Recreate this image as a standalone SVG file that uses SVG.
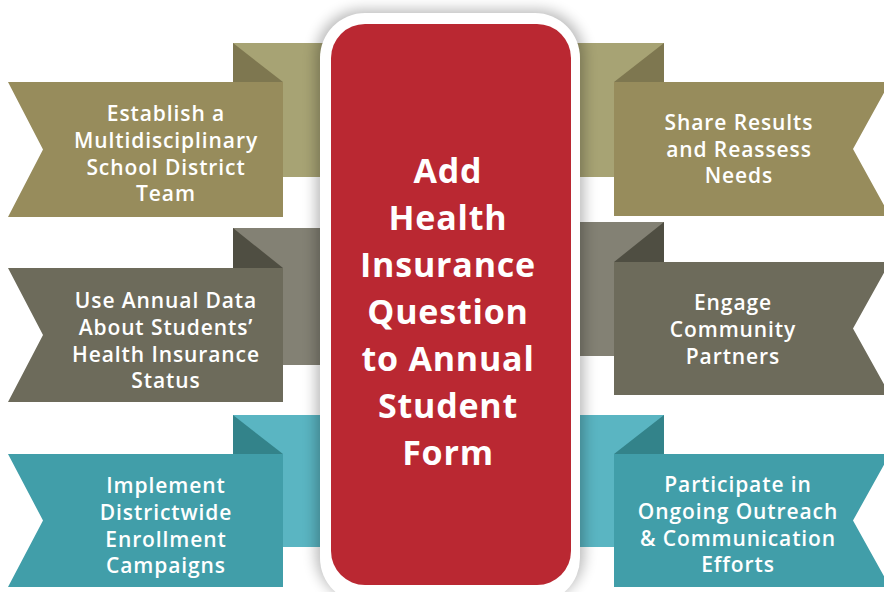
<svg xmlns="http://www.w3.org/2000/svg" width="884" height="592" viewBox="0 0 884 592">
<defs>
<filter id="sh" x="-30%" y="-30%" width="160%" height="160%"><feGaussianBlur stdDeviation="7"/></filter>
<style>
.t{font-family:"Open Sans","Liberation Sans",sans-serif;font-weight:600;font-size:21px;letter-spacing:0.9px;fill:#fff;text-anchor:middle}
.c{font-family:"Open Sans","Liberation Sans",sans-serif;font-weight:700;font-size:34px;letter-spacing:0.8px;fill:#fff;text-anchor:middle}
.of{fill:#978c5c}.ob{fill:#a7a374}.od{fill:#7e7750}
.gf{fill:#6d6b5b}.gb{fill:#838174}.gd{fill:#4f4e42}
.tf{fill:#419ea9}.tb{fill:#5ab5c2}.td{fill:#33838a}
</style>
</defs>
<rect width="884" height="592" fill="#fff"/>
<g id="ribbon-left-1">
<rect class="ob" x="233" y="43" width="100" height="134"/>
<polygon class="od" points="233,43 283,82 233,82"/>
<polygon class="of" points="8,82 283,82 283,217 8,217 43,149.5"/>
<text class="t"><tspan x="166" y="121">Establish a</tspan><tspan x="166" y="148">Multidisciplinary</tspan><tspan x="166" y="175">School District</tspan><tspan x="166" y="201">Team</tspan></text>
</g>
<g id="ribbon-left-2">
<rect class="gb" x="233" y="228" width="100" height="137"/>
<polygon class="gd" points="233,228 283,268 233,268"/>
<polygon class="gf" points="8,268 283,268 283,402 8,402 43,335"/>
<text class="t"><tspan x="166" y="308">Use Annual Data</tspan><tspan x="166" y="335">About Students’</tspan><tspan x="166" y="362">Health Insurance</tspan><tspan x="166" y="388">Status</tspan></text>
</g>
<g id="ribbon-left-3">
<rect class="tb" x="233" y="415" width="100" height="132"/>
<polygon class="td" points="233,415 283,454 233,454"/>
<polygon class="tf" points="8,454 283,454 283,587 8,587 43,520.5"/>
<text class="t"><tspan x="166" y="493">Implement</tspan><tspan x="166" y="520">Districtwide</tspan><tspan x="166" y="547">Enrollment</tspan><tspan x="166" y="573">Campaigns</tspan></text>
</g>
<g id="ribbon-right-1">
<rect class="ob" x="565" y="43" width="99" height="134"/>
<polygon class="od" points="664,43 664,82 614,82"/>
<polygon class="of" points="614,82 890,82 853,149 890,216 614,216"/>
<text class="t"><tspan x="739" y="130">Share Results</tspan><tspan x="739" y="157">and Reassess</tspan><tspan x="739" y="183">Needs</tspan></text>
</g>
<g id="ribbon-right-2">
<rect class="gb" x="565" y="222" width="99" height="134"/>
<polygon class="gd" points="664,222 664,262 614,262"/>
<polygon class="gf" points="614,262 890,262 853,328.5 890,395 614,395"/>
<text class="t"><tspan x="733" y="310">Engage</tspan><tspan x="733" y="337">Community</tspan><tspan x="733" y="364">Partners</tspan></text>
</g>
<g id="ribbon-right-3">
<rect class="tb" x="565" y="415" width="99" height="132"/>
<polygon class="td" points="664,415 664,454 614,454"/>
<polygon class="tf" points="614,454 890,454 853,520.5 890,587 614,587"/>
<text class="t"><tspan x="738" y="492">Participate in</tspan><tspan x="738" y="519">Ongoing Outreach</tspan><tspan x="738" y="546">&amp; Communication</tspan><tspan x="738" y="572">Efforts</tspan></text>
</g>
<g id="connectors"/>
<g id="center">
<rect x="316" y="10" width="268" height="590" rx="46" fill="#000" opacity="0.28" filter="url(#sh)"/>
<rect x="320" y="13" width="260" height="590" rx="45" fill="#fff"/>
<rect x="331" y="24" width="240" height="561" rx="34" fill="#ba2832"/>
<text class="c"><tspan x="448" y="183">Add</tspan><tspan x="448" y="230">Health</tspan><tspan x="448" y="277">Insurance</tspan><tspan x="448" y="324">Question</tspan><tspan x="448" y="371">to Annual</tspan><tspan x="448" y="418">Student</tspan><tspan x="448" y="465">Form</tspan></text>
</g>
</svg>
